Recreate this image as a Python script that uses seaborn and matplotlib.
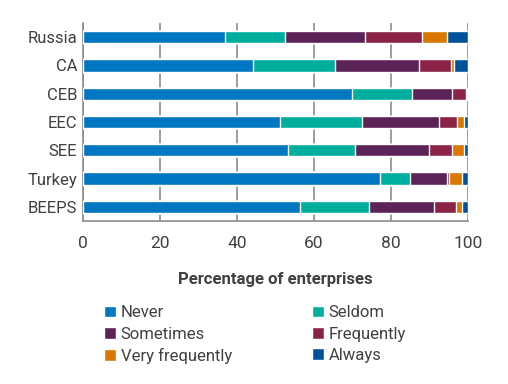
import numpy as np
import pandas as pd
import matplotlib
matplotlib.use("Agg")
import matplotlib.pyplot as plt
from matplotlib.patches import Patch
import seaborn as sns

# Chart data (percentages)
regions = ["Russia", "CA", "CEB", "EEC", "SEE", "Turkey", "BEEPS"]
never = [36.8, 44.3, 70.0, 51.1, 53.4, 77.1, 56.3]
seldom = [15.8, 21.3, 15.6, 21.5, 17.2, 8.0, 17.9]
sometimes = [20.8, 21.8, 10.2, 19.8, 19.4, 9.6, 17.1]
frequently = [14.8, 8.1, 3.6, 4.9, 5.8, 0.5, 5.5]
very_frequently = [6.3, 1.0, 0.3, 1.6, 3.1, 3.4, 1.8]
always = [5.5, 3.5, 0.3, 1.1, 1.1, 1.4, 1.4]

categories = ["Never", "Seldom", "Sometimes", "Frequently", "Very frequently", "Always"]
colors = ["#0077C0", "#00AE9D", "#5C2358", "#8B2346", "#D97700", "#00539B"]

sns.set_style("white")
plt.rcParams["font.family"] = ["Roboto", "DejaVu Sans"]
text_col = "#404040"
grid_col = "#8c8c8c"

df = pd.DataFrame({"region": regions, "Never": never, "Seldom": seldom,
                   "Sometimes": sometimes, "Frequently": frequently,
                   "Very frequently": very_frequently, "Always": always})
cum = df[categories].cumsum(axis=1)

fig = plt.figure(figsize=(5.08, 3.84), dpi=100)
ax = fig.add_axes([0.163, 0.4245, 0.758, 0.5155])

# stacked bars: draw cumulative totals from the largest down
for cat, col in reversed(list(zip(categories, colors))):
    sns.barplot(x=cum[cat], y=df["region"], orient="h", color=col,
                width=0.43, saturation=1, ax=ax, zorder=3)

ax.set_xlim(0, 100)
ax.set_xticks(range(0, 101, 20))
ax.xaxis.grid(True, color=grid_col, linewidth=1.2, zorder=0)
ax.yaxis.grid(False)
for s in ["top", "right"]:
    ax.spines[s].set_visible(False)
for s in ["left", "bottom"]:
    ax.spines[s].set_color(grid_col)
    ax.spines[s].set_linewidth(1.2)

ax.set_ylim(6.5, -0.5)
ax.set_yticks(np.arange(-0.5, 7, 1), minor=True)
ax.tick_params(axis="y", which="major", length=0, labelsize=12, labelcolor=text_col, pad=4)
ax.tick_params(axis="y", which="minor", length=5, color=grid_col, width=1.2, direction="out")
ax.tick_params(axis="x", which="major", length=5, color=grid_col, width=1.2, direction="out",
               labelsize=12.5, labelcolor=text_col, pad=6)

ax.set_ylabel("")
ax.set_xlabel("Percentage of enterprises", fontsize=12, fontweight="bold",
              color=text_col, labelpad=15)

# legend filled row by row: Never/Seldom, Sometimes/Frequently, Very frequently/Always
order = [0, 2, 4, 1, 3, 5]
handles = [Patch(facecolor=colors[i], label=categories[i]) for i in order]
fig.legend(handles=handles, ncol=2, loc="upper left", bbox_to_anchor=(0.205, 0.205),
           frameon=False, fontsize=12, labelcolor=text_col, handlelength=0.7,
           handleheight=0.7, handletextpad=0.3, columnspacing=4.8, labelspacing=0.38,
           borderaxespad=0, borderpad=0)

fig.savefig("out.png", dpi=100)
